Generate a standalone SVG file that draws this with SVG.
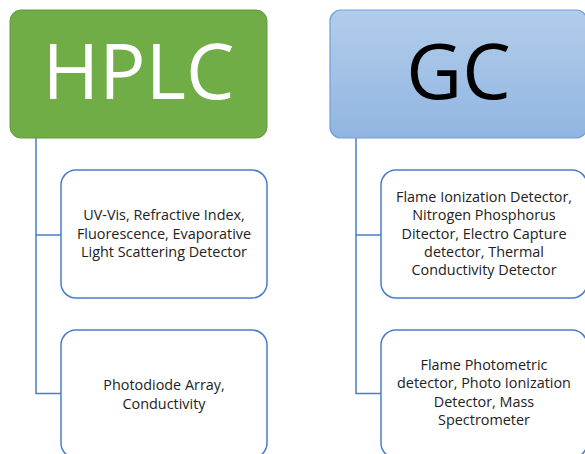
<svg xmlns="http://www.w3.org/2000/svg" width="585" height="454" viewBox="0 0 585 454">
  <defs>
    <linearGradient id="gcFill" x1="0" y1="0" x2="0" y2="1">
      <stop offset="0" stop-color="#b2cdea"/>
      <stop offset="1" stop-color="#91b5e1"/>
    </linearGradient>
    <style>
      .head { font-family: "Open Sans", "Liberation Sans", sans-serif; font-size: 77px; text-anchor: middle; }
      .leaf rect { fill: #ffffff; stroke: #4a7cce; stroke-width: 1.5; }
      .leaf text { font-family: "Open Sans", "Liberation Sans", sans-serif; font-size: 14.4px; fill: #222222; text-anchor: middle; }
      .wire { fill: none; stroke: #4a7cce; stroke-width: 1.5; }
    </style>
  </defs>
  <rect width="585" height="454" fill="#ffffff"/>

  <!-- connectors -->
  <g id="connectors">
    <path class="wire" d="M36 138 V393.5 H61 M36 235 H61"/>
    <path class="wire" d="M356 138 V393.5 H381 M356 235 H381"/>
  </g>

  <!-- column headers -->
  <g id="hplc">
    <rect x="10" y="10" width="257" height="128" rx="11" fill="#70ad47" stroke="#62983e" stroke-width="1"/>
    <text class="head" x="138.5" y="99" fill="#ffffff">HPLC</text>
  </g>
  <g id="gc">
    <rect x="330" y="10" width="257" height="128" rx="11" fill="url(#gcFill)" stroke="#6f9fdb" stroke-width="1.2"/>
    <text class="head" x="458.5" y="99" fill="#000000">GC</text>
  </g>

  <!-- HPLC detectors -->
  <g id="hplc-detectors-1" class="leaf">
    <rect x="61" y="170" width="206" height="128" rx="15"/>
    <text x="164" y="220">UV-Vis, Refractive Index,</text>
    <text x="164" y="238.5">Fluorescence, Evaporative</text>
    <text x="164" y="257">Light Scattering Detector</text>
  </g>
  <g id="hplc-detectors-2" class="leaf">
    <rect x="61" y="330" width="206" height="128" rx="15"/>
    <text x="164" y="390">Photodiode Array,</text>
    <text x="164" y="408.5">Conductivity</text>
  </g>

  <!-- GC detectors -->
  <g id="gc-detectors-1" class="leaf">
    <rect x="381" y="170" width="206" height="128" rx="15"/>
    <text x="484" y="202">Flame Ionization Detector,</text>
    <text x="484" y="220.3">Nitrogen Phosphorus</text>
    <text x="484" y="238.6">Ditector, Electro Capture</text>
    <text x="484" y="256.9">detector, Thermal</text>
    <text x="484" y="275.2">Conductivity Detector</text>
  </g>
  <g id="gc-detectors-2" class="leaf">
    <rect x="381" y="330" width="206" height="128" rx="15"/>
    <text x="484" y="370">Flame Photometric</text>
    <text x="484" y="388.3">detector, Photo Ionization</text>
    <text x="484" y="406.6">Detector, Mass</text>
    <text x="484" y="424.9">Spectrometer</text>
  </g>
</svg>
